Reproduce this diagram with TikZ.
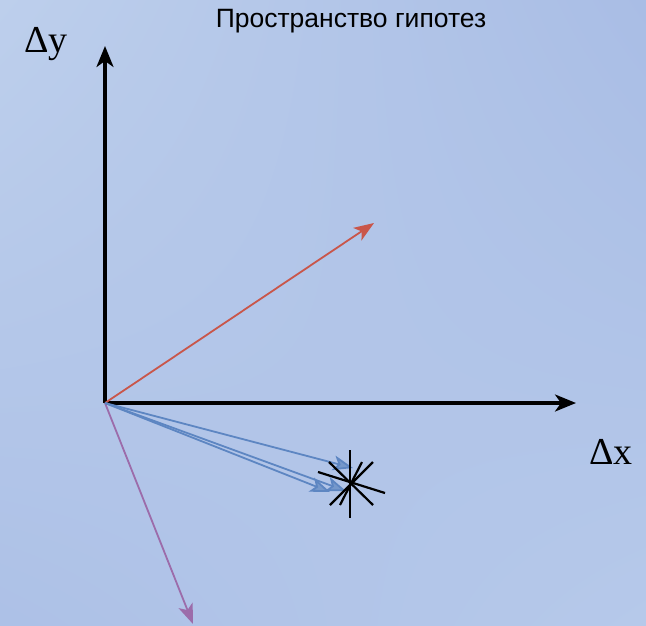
\documentclass[tikz,border=0pt]{standalone}
\usepackage{fontspec}
\setmainfont{Liberation Serif}
\newfontfamily\titlefont{Liberation Sans}
\usetikzlibrary{arrows.meta,positioning,shadings}
\definecolor{cfondo}{HTML}{A9BDE5}
\definecolor{cfondoa}{HTML}{BDCFEC}
\definecolor{cfondob}{HTML}{B6C9EA}
\definecolor{crojo}{HTML}{C9564A}
\definecolor{cazul}{HTML}{5D86C2}
\definecolor{cmorado}{HTML}{9C6CAA}
\tikzset{
  eje/.style={-{Stealth[length=21pt,width=17pt,inset=6pt]},line width=3.2pt,draw=black},
  vector/.style={-{Stealth[length=20pt,width=15pt,inset=5pt]},line width=1.8pt},
  vectorb/.style={vector,draw=cazul,-{Stealth[length=20pt,width=15pt,inset=5pt,fill=cazul!85!white]}},
  rayo/.style={draw=black,line width=2.2pt},
  et/.style={font=\fontsize{38}{42}\selectfont,inner sep=0pt},
  tit/.style={font=\titlefont\fontsize{26.5}{30}\selectfont,inner sep=0pt},
}
\begin{document}
\begin{tikzpicture}[x=1pt,y=-1pt]

\shade[upper left=cfondoa,upper right=cfondo,lower left=cfondo!70!cfondob,lower right=cfondob]
  (0,0) rectangle (646,625);
\useasboundingbox (0,0) rectangle (646,625);

\node[tit] (titulo) at (351,21) {Пространство гипотез};
\node[et] (ly) at (46,44) {Δy};
\node[et] (lx) at (611,452) {Δx};

\coordinate (o) at (105,403);
\coordinate (ytop) at (105,46);
\coordinate (xend) at (576,403);
\coordinate (rojo) at (374,223);
\coordinate (morado) at (193,624);
\coordinate (b1) at (353,468);
\coordinate (b2) at (346,491);
\coordinate (b3) at (330,492);
\coordinate (est) at (350,485);

% ejes
\draw[eje] (o) -- (ytop);
\draw[eje] (o) -- (xend);

% hipotesis
\draw[vector,draw=crojo,-{Stealth[length=20pt,width=15pt,inset=5pt,fill=crojo]}] (o) -- (rojo);
\draw[vector,draw=cmorado,-{Stealth[length=20pt,width=15pt,inset=5pt,fill=cmorado]}] (o) -- (morado);
\draw[vectorb] (o) -- (b1);
\draw[vectorb] (o) -- (b2);
\draw[vectorb] (o) -- (b3);

% estrella
\draw[rayo] (est) ++(0,-35) -- ++(0,68);
\draw[rayo] (est) ++(-21,-23) -- ++(44,43);
\draw[rayo] (est) ++(-32,-13) -- ++(67,21);
\draw[rayo] (est) ++(12,-23) -- ++(-22,43);
\draw[rayo] (est) ++(23,-23) -- ++(-43,43);

\end{tikzpicture}
\end{document}
